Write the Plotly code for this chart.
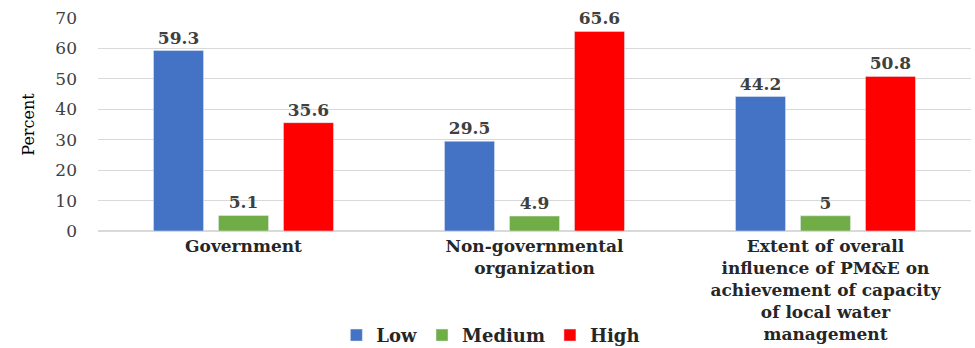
import plotly.graph_objects as go

categories = [
    "Government",
    "Non-governmental<br>organization",
    "Extent of overall<br>influence of PM&E on<br>achievement of capacity<br>of local water<br>management",
]
low = [59.3, 29.5, 44.2]
medium = [5.1, 4.9, 5]
high = [35.6, 65.6, 50.8]
y_ticks = [0, 10, 20, 30, 40, 50, 60, 70]

serif = "DejaVu Serif"
label_font = dict(family=serif, size=17, color="#404040")

fig = go.Figure()
for name, vals, color in [("Low", low, "#4472C4"), ("Medium", medium, "#70AD47"), ("High", high, "#FF0000")]:
    fig.add_trace(go.Bar(
        x=categories, y=vals, name=f"<b>{name}</b>", marker_color=color,
        text=[f"<b>{v:g}</b>" for v in vals], textposition="outside",
        textfont=label_font, cliponaxis=False,
    ))

fig.update_layout(
    width=975, height=348,
    margin=dict(l=98, r=4, t=18, b=117, autoexpand=False),
    paper_bgcolor="white", plot_bgcolor="white",
    barmode="group", bargap=0.33, bargroupgap=0.23,
    font=dict(family=serif, color="#262626"),
    showlegend=True,
    legend=dict(orientation="h", x=0.45, xanchor="center", y=-0.49, yanchor="middle",
                font=dict(family=serif, size=18, color="#262626"), itemwidth=30,
                traceorder="normal"),
    yaxis=dict(range=[0, 70], tickvals=y_ticks, showgrid=True, gridcolor="#D9D9D9",
               zeroline=True, zerolinecolor="#D9D9D9", automargin=False,
               tickfont=dict(family=serif, size=17, color="#404040"),
               ticklabelstandoff=20,
               title=dict(text="Percent", font=dict(family=serif, size=16, color="#000000"), standoff=16)),
    xaxis=dict(tickfont=dict(family=serif, size=17, color="#262626"), showline=False,
               automargin=False, ticklabelstandoff=3),
)
fig.update_xaxes(tickprefix="<b>", ticksuffix="</b>")
fig.update_yaxes(tickprefix="<b>", ticksuffix="</b>")

fig.write_html("out.html")
